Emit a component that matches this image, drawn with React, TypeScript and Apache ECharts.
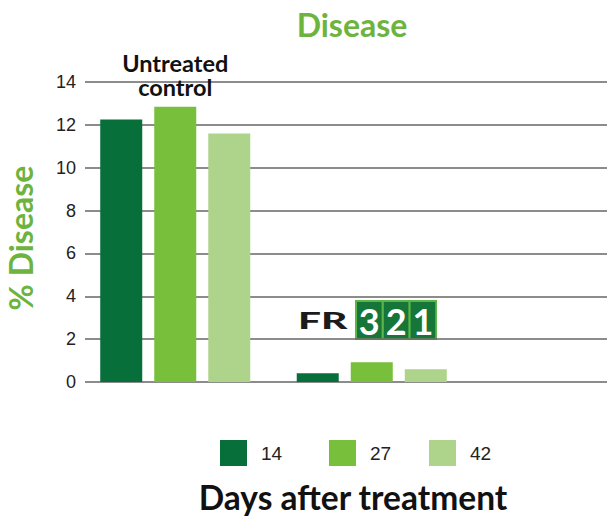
import React, { useEffect, useRef } from 'react';
import * as echarts from 'echarts';

const categories = ['Untreated control', 'FR321'];
const seriesNames = ['14', '27', '42'];
const days14 = [12.25, 0.41];
const days27 = [12.85, 0.92];
const days42 = [11.6, 0.6];
const yMin = 0;
const yMax = 14;
const yInterval = 2;
const colors = ['#07703a', '#78bf3b', '#aed38a'];
const logoDigits = ['3', '2', '1'];

const boldFont = 'Lato, "Noto Sans", sans-serif';
const plainFont = '"Liberation Sans", Arial, sans-serif';
const green = '#6db43f';

export default function App() {
  const ref = useRef<HTMLDivElement>(null);
  useEffect(() => {
    const chart = echarts.init(ref.current as HTMLDivElement, null, { renderer: 'svg' });
    const values = [days14, days27, days42];
    const legendLeft = [220, 329, 429];

    const logo: any[] = [
      {
        type: 'text', x: 298, y: 321, scaleX: 1.85,
        style: { text: 'FR', fontFamily: boldFont, fontWeight: 900, fontSize: 22, fill: '#1b1b1b', verticalAlign: 'middle', align: 'left' },
      },
      { type: 'rect', shape: { x: 355, y: 300, width: 82, height: 40 }, style: { fill: '#5cb547' } },
    ];
    logoDigits.forEach((d, i) => {
      logo.push({ type: 'rect', shape: { x: 357 + i * 26.8, y: 302, width: 24.6, height: 36 }, style: { fill: '#16763a' } });
      logo.push({
        type: 'text', x: 357 + i * 26.8 + 12.3, y: 321,
        style: { text: d, fontFamily: boldFont, fontWeight: 'bold', fontSize: 36, fill: '#ffffff', align: 'center', verticalAlign: 'middle' },
      });
    });

    chart.setOption({
      animation: false,
      backgroundColor: '#ffffff',
      grid: [
        { left: 85, right: 0, top: 82, bottom: 137 },
        { left: 77, width: 393, top: 82, bottom: 137 },
      ],
      xAxis: [
        { gridIndex: 0, type: 'category', data: categories, show: false },
        { gridIndex: 1, type: 'category', data: categories, show: false },
      ],
      yAxis: [
        {
          gridIndex: 0, type: 'value', min: yMin, max: yMax, interval: yInterval,
          axisLine: { show: false }, axisTick: { show: false },
          axisLabel: { fontFamily: plainFont, fontSize: 18, color: '#222', margin: 9 },
          splitLine: { lineStyle: { color: '#666', width: 1.5 } },
        },
        { gridIndex: 1, type: 'value', min: yMin, max: yMax, interval: yInterval, show: false, splitLine: { show: false } },
      ],
      legend: seriesNames.map((n, i) => ({
        data: [n], left: legendLeft[i], top: 440, padding: 0, itemWidth: 27, itemHeight: 26, icon: 'rect',
        selectedMode: false,
        textStyle: { fontFamily: plainFont, fontSize: 19, color: '#222', padding: [4, 0, 0, 9] },
      })),
      series: seriesNames.map((n, i) => ({
        name: n, type: 'bar', xAxisIndex: 1, yAxisIndex: 1,
        barWidth: 42, barGap: '28.6%',
        itemStyle: { color: colors[i] },
        data: values[i].map((v, j) =>
          i === 1 && j === 0
            ? {
                value: v,
                label: {
                  show: true, position: 'top', distance: 8,
                  formatter: 'Untreated\ncontrol',
                  fontFamily: boldFont, fontWeight: 'bold', fontSize: 23.5, lineHeight: 24, color: '#111',
                },
              }
            : v
        ),
      })),
      graphic: [
        {
          type: 'text', x: 352, y: 24,
          style: { text: 'Disease', fontFamily: boldFont, fontWeight: 'bold', fontSize: 32, fill: green, align: 'center', verticalAlign: 'middle' },
        },
        {
          type: 'text', x: 20, y: 238, rotation: Math.PI / 2,
          style: { text: '% Disease', fontFamily: boldFont, fontWeight: 'bold', fontSize: 32, fill: green, align: 'center', verticalAlign: 'middle' },
        },
        {
          type: 'text', x: 353, y: 497,
          style: { text: 'Days after treatment', fontFamily: boldFont, fontWeight: 'bold', fontSize: 33.5, fill: '#111', align: 'center', verticalAlign: 'middle' },
        },
        ...logo,
      ],
    });
    return () => chart.dispose();
  }, []);
  return <div ref={ref} style={{ position: 'fixed', left: 0, top: 0, width: 607, height: 519 }} />;
}
